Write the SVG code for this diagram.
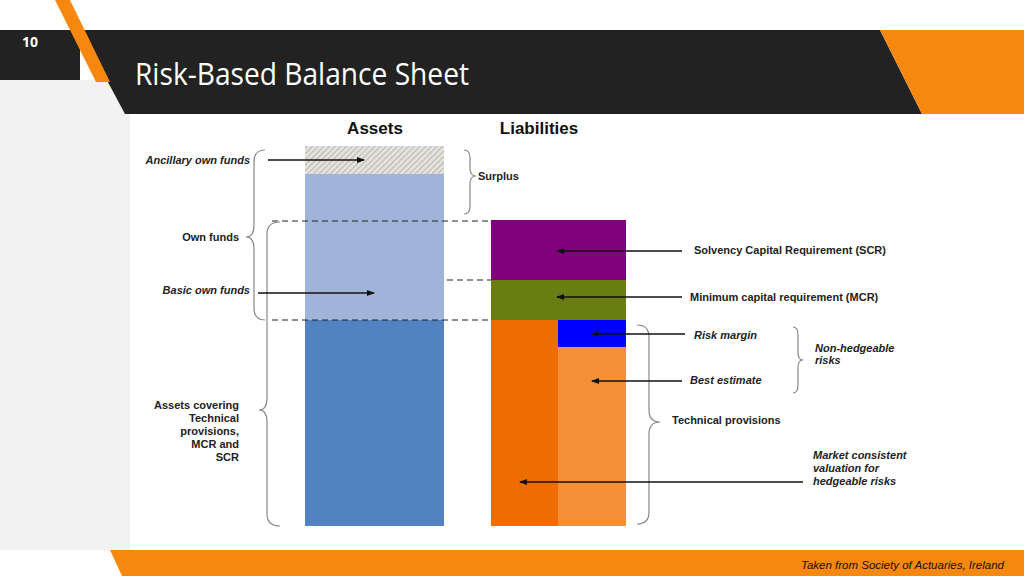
<svg xmlns="http://www.w3.org/2000/svg" width="1024" height="576" viewBox="0 0 1024 576">
<style>
.l{font-family:"Liberation Sans",Arial,sans-serif;font-size:11px;font-weight:bold;fill:#222}
.i{font-style:italic}
.h{font-family:"Liberation Sans",Arial,sans-serif;font-size:17px;font-weight:bold;fill:#111}
.br{fill:none;stroke:#888;stroke-width:1.2}
.ar{stroke:#111;stroke-width:1.3;fill:none;marker-end:url(#a)}
.d{stroke:#222;stroke-width:1.2;stroke-dasharray:6,4}
</style>
<defs>
<marker id="a" markerWidth="8" markerHeight="8" refX="7" refY="4" orient="auto" markerUnits="userSpaceOnUse"><path d="M0,1 L8,4 L0,7z" fill="#111"/></marker>
<pattern id="hp" width="4" height="4" patternUnits="userSpaceOnUse" patternTransform="rotate(45)"><rect width="4" height="4" fill="#e4e2dc"/><line x1="0" y1="0" x2="0" y2="4" stroke="#a8a8a0" stroke-width="1.5"/></pattern>
</defs>
<rect width="1024" height="576" fill="#fff"/>
<rect x="0" y="80" width="130" height="470" fill="#f2f2f2"/>
<rect x="0" y="30" width="80" height="50" fill="#222"/>
<polygon points="80,30 880,30 922,114 125,114" fill="#222"/>
<polygon points="880,30 1024,30 1024,114 922,114" fill="#f7880f"/>
<polygon points="55,0 70,0 110,82 96,82" fill="#f7880f"/>
<polygon points="110,550 1024,550 1024,576 122,576" fill="#f7880f"/>
<text x="22" y="47" font-family="'Open Sans',sans-serif" font-weight="bold" font-size="14" fill="#fff">10</text>
<text x="135" y="85" font-family="'Open Sans',sans-serif" font-size="31" fill="#fff" textLength="334" lengthAdjust="spacingAndGlyphs">Risk-Based Balance Sheet</text>
<text x="1004" y="569" text-anchor="end" font-family="'Liberation Sans',Arial,sans-serif" font-style="italic" font-size="11.5" fill="#111">Taken from Society of Actuaries, Ireland</text>

<g id="assets">
<text class="h" x="375" y="134" text-anchor="middle">Assets</text>
<rect x="305" y="146" width="139" height="28" fill="url(#hp)"/>
<rect x="305" y="174" width="139" height="146" fill="#a0b4da"/>
<rect x="305" y="320" width="139" height="206" fill="#5282c0"/>
</g>
<g id="liabilities">
<text class="h" x="539" y="134" text-anchor="middle">Liabilities</text>
<rect x="491" y="220" width="135" height="60" fill="#80007e"/>
<rect x="491" y="280" width="135" height="40" fill="#6a7d12"/>
<rect x="491" y="320" width="67" height="206" fill="#ef6c00"/>
<rect x="558" y="320" width="68" height="27" fill="#0000ff"/>
<rect x="558" y="347" width="68" height="179" fill="#f39035"/>
</g>
<g id="labels">
<text class="l i" x="250" y="164" text-anchor="end">Ancillary own funds</text>
<text class="l" x="239" y="241" text-anchor="end" font-weight="normal">Own funds</text>
<text class="l i" x="250" y="294" text-anchor="end">Basic own funds</text>
<text class="l" x="239" y="409" text-anchor="end">Assets covering</text>
<text class="l" x="239" y="422" text-anchor="end">Technical</text>
<text class="l" x="239" y="435" text-anchor="end">provisions,</text>
<text class="l" x="239" y="448" text-anchor="end">MCR and</text>
<text class="l" x="239" y="461" text-anchor="end">SCR</text>
<text class="l" x="478" y="180">Surplus</text>
<text class="l" x="694" y="254">Solvency Capital Requirement (SCR)</text>
<text class="l" x="690" y="301">Minimum capital requirement (MCR)</text>
<text class="l i" x="694" y="339">Risk margin</text>
<text class="l i" x="690" y="384">Best estimate</text>
<text class="l" x="672" y="424">Technical provisions</text>
<text class="l i" x="815" y="352">Non-hedgeable</text>
<text class="l i" x="815" y="364">risks</text>
<text class="l i" x="813" y="459">Market consistent</text>
<text class="l i" x="813" y="472">valuation for</text>
<text class="l i" x="813" y="485">hedgeable risks</text>
</g>
<g id="connectors">
<line class="d" x1="272" y1="221" x2="491" y2="221"/>
<line class="d" x1="447" y1="280" x2="491" y2="280"/>
<line class="d" x1="272" y1="320" x2="491" y2="320"/>
<path class="br" d="M265,150 Q254,150 254,162 L254,225 Q254,237 246,237 Q254,237 254,249 L254,308 Q254,320 265,320"/>
<path class="br" d="M280,222 Q267,222 267,234 L267,398 Q267,410 259,410 Q267,410 267,422 L267,514 Q267,526 280,526"/>
<path class="br" d="M464,150 Q470,150 470,158 L470,168 Q470,176 476,176 Q470,176 470,184 L470,206 Q470,214 464,214"/>
<path class="br" d="M637,325 Q649,325 649,337 L649,410 Q649,422 660,422 Q649,422 649,434 L649,512 Q649,524 637,524"/>
<path class="br" d="M793,327 Q798,327 798,335 L798,352 Q798,360 803,360 Q798,360 798,368 L798,385 Q798,393 793,393"/>
<line class="ar" x1="268" y1="160" x2="364" y2="160"/>
<line class="ar" x1="258" y1="293" x2="374" y2="293"/>
<line class="ar" x1="682" y1="251" x2="557" y2="251"/>
<line class="ar" x1="682" y1="297" x2="557" y2="297"/>
<line class="ar" x1="685" y1="334" x2="592" y2="334"/>
<line class="ar" x1="682" y1="381" x2="592" y2="381"/>
<line class="ar" x1="803" y1="482" x2="520" y2="482"/>
</g>
</svg>
